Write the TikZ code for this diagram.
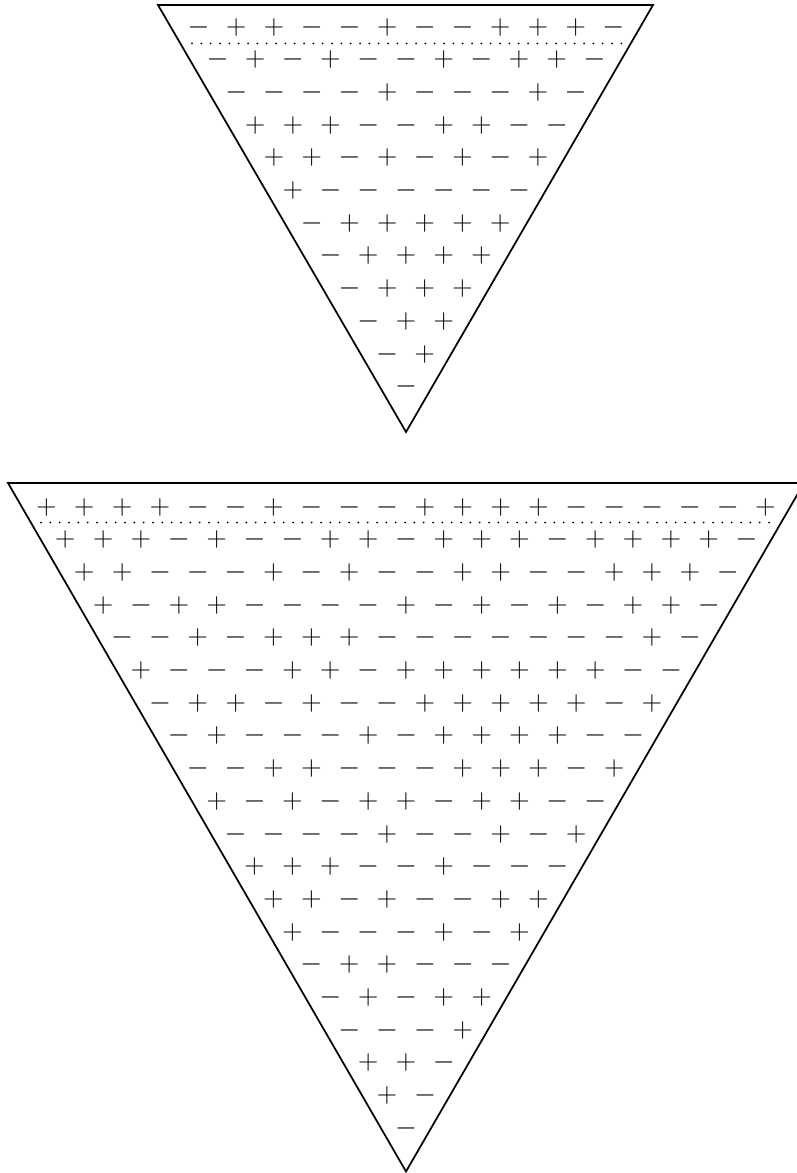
\documentclass[tikz,border=0pt]{standalone}
\tikzset{
  sgn/.style={inner sep=0pt, font=\fontsize{17.28}{20}\selectfont},
  tri/.style={draw, line width=1.3pt, line join=miter},
  sepline/.style={line width=1.5pt, dash pattern=on 0pt off 7pt, line cap=round},
}
\newcommand\psign{\scalebox{1.22}{$+$}}
\newcommand\msign{\scalebox{1.22}{$-$}}
% store first row of signs
\newcommand\initrow[2]{%
  \foreach \v [count=\col] in {#2} {\expandafter\xdef\csname #1-1-\col\endcsname{\v}}}
% fill the remaining rows: each sign is the product of the two above it
\newcommand\fillrows[2]{%
  \foreach \row in {2,...,#2} {%
    \pgfmathtruncatemacro\len{#2-\row+1}%
    \pgfmathtruncatemacro\pr{\row-1}%
    \foreach \col in {1,...,\len} {%
      \pgfmathtruncatemacro\nx{\col+1}%
      \edef\sa{\csname #1-\pr-\col\endcsname}%
      \edef\sb{\csname #1-\pr-\nx\endcsname}%
      \ifnum\sa=\sb\relax
        \expandafter\xdef\csname #1-\row-\col\endcsname{1}%
      \else
        \expandafter\xdef\csname #1-\row-\col\endcsname{-1}%
      \fi
    }}}
% draw the signs: #1 prefix, #2 rows, #3 x centre, #4 y of first row, #5 spacing
\newcommand\drawsigns[5]{%
  \foreach \row in {1,...,#2} {%
    \pgfmathtruncatemacro\len{#2-\row+1}%
    \foreach \col in {1,...,\len} {%
      \edef\val{\csname #1-\row-\col\endcsname}%
      \node[sgn] (#1-\row-\col) at ({#3+(\col-(\len+1)/2)*#5}, {#4+(\row-1)*32.7}) {\ifnum\val>0 \psign\else \msign\fi};
    }}}
\begin{document}
\begin{tikzpicture}[x=0.75pt, y=-0.75pt]
\useasboundingbox (0,0) rectangle (796,1173);
\initrow{T}{-1,1,1,-1,-1,1,-1,-1,1,1,1,-1}
\fillrows{T}{12}
\initrow{B}{1,1,1,1,-1,-1,1,-1,-1,-1,1,1,1,1,-1,-1,-1,-1,-1,1}
\fillrows{B}{20}
% top triangle
\coordinate (ta) at (158,5);
\coordinate (tb) at (653,5);
\coordinate (tc) at (406,432);
\draw[tri] (ta) -- (tb) -- (tc) -- cycle;
\coordinate (tl) at (192,43.5);
\coordinate (tr) at (624,43.5);
\draw[sepline] (tl) -- (tr);
\drawsigns{T}{12}{406}{27}{37.7}
% bottom triangle
\coordinate (ba) at (8,483);
\coordinate (bb) at (804,483);
\coordinate (bc) at (406,1171.5);
\draw[tri] (ba) -- (bb) -- (bc) -- cycle;
\coordinate (bl) at (41,522.5);
\coordinate (br) at (774,522.5);
\draw[sepline] (bl) -- (br);
\drawsigns{B}{20}{406}{507}{37.85}
\end{tikzpicture}
\end{document}
